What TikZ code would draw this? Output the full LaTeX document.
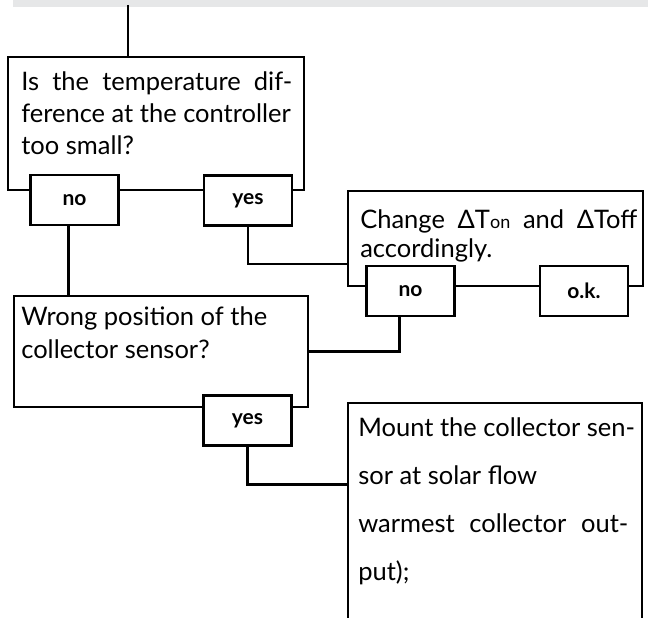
\documentclass[tikz,border=0pt]{standalone}
\usepackage{fontspec}
\setmainfont{Lato}
\usepackage{tikz}
\definecolor{bandgray}{RGB}{230,231,232}

\begin{document}
\begin{tikzpicture}[x=1pt, y=-1pt, line width=2.6pt,
        qbox/.style={draw, rectangle, fill=white, inner sep=0pt},
        ansbox/.style={draw, rectangle, fill=white, inner sep=0pt, minimum width=88pt, minimum height=50pt, font=\bfseries\fontsize{21}{24}\selectfont},
        qtext/.style={anchor=base west, align=left, inner sep=0pt, font=\fontsize{25.5}{#1}\selectfont}]
        \path[use as bounding box, clip] (0,0) rectangle (648,618);
        \fill[bandgray] (13,0) rectangle (648,7);
        \coordinate (top) at (128,5);

        % question boxes
        \node[qbox, minimum width=296pt, minimum height=133pt] (q1) at (156,123.5) {};
        \node[qbox, minimum width=295pt, minimum height=95pt] (chg) at (495.5,238.5) {};
        \node[qbox, minimum width=294pt, minimum height=111pt] (wrong) at (161,351.5) {};
        \node[qbox, minimum width=294pt, minimum height=234pt] (mount) at (495,520) {};

        % texts, placed at the baseline of their last line
        \node[qtext=32] (q1txt) at (20,154) {\makebox[271pt][s]{Is the temperature dif-}\\ference at the controller\\too small?};
        \node[qtext=29] (chgtxt) at (359,257) {\makebox[277pt][s]{Change ΔT{\fontsize{18}{20}\selectfont on} and ΔToff}\\accordingly.};
        \node[qtext=33] (wrongtxt) at (20,358) {Wrong position of the\\collector sensor?};
        \node[qtext=48] (mounttxt) at (357,580) {Mount the collector sen-\\sor at solar flow\\\makebox[270pt][s]{warmest collector out-}\\put);};

        % answers
        \node[ansbox] (no1) at (74.5,200) {no};
        \node[ansbox] (yes1) at (248,200.5) {yes};
        \node[ansbox] (no2) at (410.5,291) {no};
        \node[ansbox] (ok) at (584,291) {o.k.};
        \node[ansbox] (yes3) at (247.5,420.5) {yes};

        % connectors
        \draw (top) -- (top |- q1.north);
        \draw ([xshift=-6pt]no1.south) -- ([xshift=-6pt]no1.south |- wrong.north);
        \draw (yes1.south) |- ([yshift=-25.5pt]chg.west);
        \draw ([xshift=-11pt]no2.south) |- (wrong.east);
        \draw (yes3.south) |- ([yshift=-83pt]mount.north west);
    \end{tikzpicture}
\end{document}
